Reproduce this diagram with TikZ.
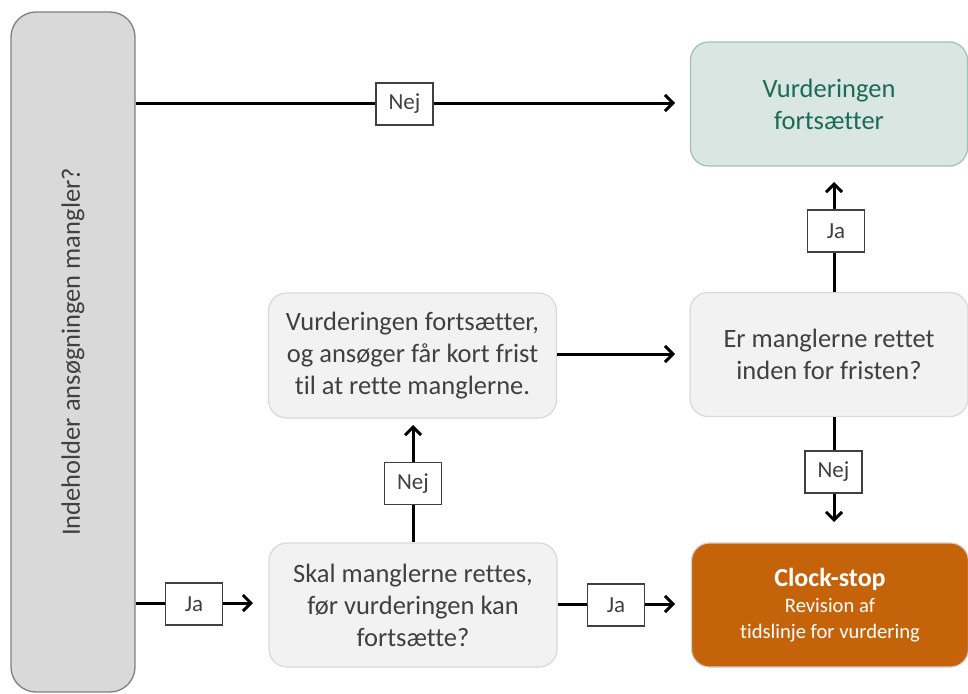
\documentclass[tikz,border=0pt]{standalone}
\usepackage{fontspec}
\setmainfont{Carlito}[Ligatures=NoCommon]
\usetikzlibrary{arrows.meta,calc}
\definecolor{txt}{HTML}{404040}
\definecolor{boxfill}{HTML}{F2F2F2}
\definecolor{boxline}{HTML}{D9D9D9}
\definecolor{leftfill}{HTML}{D9D9D9}
\definecolor{leftline}{HTML}{7F7F7F}
\definecolor{greenfill}{HTML}{D9E6E2}
\definecolor{greenline}{HTML}{9CC2B6}
\definecolor{greentxt}{HTML}{1B6B55}
\definecolor{orangefill}{HTML}{C5630B}
\definecolor{orangeline}{HTML}{D0CECE}
\tikzset{
  box/.style={draw=boxline, fill=boxfill, line width=1.2pt, rounded corners=18pt,
    text=txt, align=center, font=\fontsize{26.5}{32}\selectfont, inner sep=0pt},
  lbl/.style={draw=txt, fill=white, line width=1.3pt, text=txt,
    minimum width=57pt, minimum height=42pt, inner sep=0pt,
    font=\fontsize{23}{26}\selectfont},
  arr/.style={line width=3pt, -{Straight Barb[length=8pt,width=16pt,line width=3pt]}},
  ln/.style={line width=3pt}
}
\begin{document}
\begin{tikzpicture}[x=1pt,y=-1pt]
\useasboundingbox (0,0) rectangle (968,693);
% boxes
\node[draw=leftline, fill=leftfill, line width=1.3pt, rounded corners=25pt,
  minimum width=124pt, minimum height=680pt, inner sep=0pt] (left) at (73,352) {};
\node[rotate=90, text=txt, font=\fontsize{26.5}{30}\selectfont] (lefttxt) at (left.center) {Indeholder ansøgningen mangler?};
\node[box, draw=greenline, fill=greenfill, text=greentxt, minimum width=277pt, minimum height=124pt] (green) at (829,104) {Vurderingen\\fortsætter};
\node[box, minimum width=288pt, minimum height=125pt] (midl) at (412.5,355.5) {Vurderingen fortsætter,\\og ansøger får kort frist\\til at rette manglerne.};
\node[box, minimum width=278pt, minimum height=124pt] (midr) at (829,354.5) {Er manglerne rettet\\inden for fristen?};
\node[box, minimum width=288pt, minimum height=124pt] (botm) at (413,605) {Skal manglerne rettes,\\før vurderingen kan\\fortsætte?};
\node[box, draw=orangeline, fill=orangefill, text=white, minimum width=277pt, minimum height=124pt, font=\fontsize{20.6}{26}\selectfont] (botr) at (830,605) {{\fontsize{26}{26}\selectfont\bfseries Clock-stop}\\Revision af\\tidslinje for vurdering};
% arrow end points
\coordinate (e1) at (675,103);
\coordinate (e2) at (253,603);
\coordinate (e3) at (675,604);
\coordinate (e4) at (413,425);
\coordinate (e5) at (675,354);
\coordinate (e6) at (834,182);
\coordinate (e7) at (834,522);
% connectors
\draw[arr] (left.east |- e1) -- (e1);
\draw[arr] (left.east |- e2) -- (e2);
\draw[arr] (botm.east |- e3) -- (e3);
\draw[arr] (botm.north -| e4) -- (e4);
\draw[arr] (midl.east |- e5) -- (e5);
\draw[arr] (midr.north -| e6) -- (e6);
\draw[arr] (midr.south -| e7) -- (e7);
% labels
\node[lbl] (l1) at (404.5,104) {Nej};
\node[lbl] (l2) at (194,604) {Ja};
\node[lbl] (l3) at (616,605) {Ja};
\node[lbl] (l4) at (413,483.5) {Nej};
\node[lbl] (l5) at (836,231) {Ja};
\node[lbl] (l6) at (833.5,472) {Nej};
\end{tikzpicture}
\end{document}
